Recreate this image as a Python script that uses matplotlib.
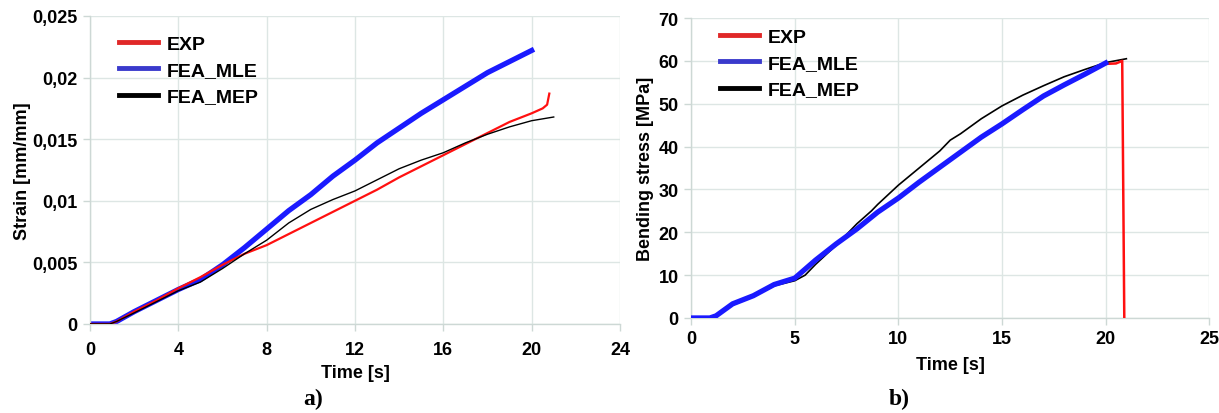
import matplotlib
matplotlib.use("Agg")
import matplotlib.pyplot as plt
from matplotlib.lines import Line2D
from matplotlib.ticker import FuncFormatter

# ---- Panel a) Strain vs time ----
t_exp_a = [0, 0.9, 1.2, 2, 3, 4, 5, 6, 7, 8, 9, 10, 11, 12, 13, 14, 15, 16, 17, 18, 19, 20, 20.5, 20.7, 20.8]
e_exp_a = [0, 0, 0.0002, 0.0010, 0.0019, 0.0029, 0.0038, 0.0048, 0.0057, 0.0064, 0.0073, 0.0082, 0.0091, 0.0100, 0.0109, 0.0119, 0.0128, 0.0137, 0.0146, 0.0155, 0.0164, 0.0171, 0.0175, 0.0178, 0.0187]

t_mle_a = [0, 0.9, 1.2, 2, 3, 4, 5, 6, 7, 8, 9, 10, 11, 12, 13, 14, 15, 16, 17, 18, 19, 20]
e_mle_a = [0, 0, 0.0002, 0.0010, 0.0019, 0.0028, 0.0036, 0.0048, 0.0062, 0.0077, 0.0092, 0.0105, 0.0120, 0.0133, 0.0147, 0.0159, 0.0171, 0.0182, 0.0193, 0.0204, 0.0213, 0.0222]

t_mep_a = [0, 0.9, 1.2, 2, 3, 4, 5, 6, 7, 8, 9, 10, 11, 12, 13, 14, 15, 16, 17, 18, 19, 20, 21]
e_mep_a = [0, 0, 0.0002, 0.0009, 0.0018, 0.0027, 0.0034, 0.0045, 0.0057, 0.0068, 0.0082, 0.0093, 0.0101, 0.0108, 0.0117, 0.0126, 0.0133, 0.0139, 0.0147, 0.0154, 0.0160, 0.0165, 0.0168]

# ---- Panel b) Bending stress vs time ----
t_exp_b = [0, 0.9, 1.2, 2, 3, 4, 5, 6, 7, 8, 9, 10, 11, 12, 13, 14, 15, 16, 17, 18, 19, 20, 20.5, 20.8, 20.9]
s_exp_b = [0, 0, 0.5, 3.3, 5.2, 7.8, 9.3, 13.5, 17.3, 20.8, 24.7, 28.0, 31.7, 35.2, 38.7, 42.2, 45.3, 48.6, 51.8, 54.4, 56.9, 59.3, 59.4, 60.0, 0]

t_mle_b = [0, 0.9, 1.2, 2, 3, 4, 5, 6, 7, 8, 9, 10, 11, 12, 13, 14, 15, 16, 17, 18, 19, 20]
s_mle_b = [0, 0, 0.5, 3.3, 5.2, 7.8, 9.3, 13.5, 17.3, 20.8, 24.7, 28.0, 31.7, 35.2, 38.7, 42.2, 45.3, 48.6, 51.8, 54.4, 56.9, 59.5]

t_mep_b = [0, 0.9, 1.2, 2, 3, 4, 5, 5.5, 6, 7, 7.6, 8, 8.7, 9, 10, 11, 12, 12.5, 13, 14, 15, 16, 17, 18, 19, 20, 21]
s_mep_b = [0, 0, 0.5, 3.0, 5.0, 7.5, 8.7, 10.0, 12.5, 17.0, 20.0, 22.0, 25.0, 26.5, 31.0, 35.0, 39.0, 41.5, 43.0, 46.5, 49.5, 52.0, 54.2, 56.3, 58.0, 59.6, 60.5]

labels = ["EXP", "FEA_MLE", "FEA_MEP"]
xticks_a = [0, 4, 8, 12, 16, 20, 24]
yticks_a = [0, 0.005, 0.01, 0.015, 0.02, 0.025]
xticks_b = [0, 5, 10, 15, 20, 25]
yticks_b = [0, 10, 20, 30, 40, 50, 60, 70]

RED = "#ff1010"
BLUE = "#1a1aff"
GRID = "#dde6e4"
SANS = "Liberation Sans"

fig = plt.figure(figsize=(12.19, 4.14), dpi=100)
ax1 = fig.add_axes([0.0738, 0.215, 0.4348, 0.744])
ax2 = fig.add_axes([0.567, 0.2295, 0.4250, 0.7245])


def comma(v, pos):
    if v == 0:
        return "0"
    s = ("%.3f" % v).rstrip("0")
    return s.replace(".", ",")


def style(ax, xt, yt, fmt=None, xpad=4):
    ax.set_xticks(xt)
    ax.set_yticks(yt)
    ax.set_xlim(xt[0], xt[-1])
    ax.set_ylim(yt[0], yt[-1])
    if fmt is not None:
        ax.yaxis.set_major_formatter(FuncFormatter(fmt))
    ax.grid(True, color=GRID, linewidth=1.0)
    ax.set_axisbelow(True)
    for s in ["top", "right"]:
        ax.spines[s].set_visible(False)
    for s in ["left", "bottom"]:
        ax.spines[s].set_color("#cdd8d5")
        ax.spines[s].set_linewidth(1.0)
    ax.tick_params(colors="#cdd8d5", length=5, width=1, labelcolor="black", pad=4)
    ax.tick_params(axis="x", pad=xpad)
    for lab in ax.get_xticklabels() + ax.get_yticklabels():
        lab.set_fontfamily(SANS)
        lab.set_fontweight("bold")
        lab.set_fontsize(13)


# Panel a
ax1.plot(t_exp_a, e_exp_a, color=RED, lw=1.6, zorder=3)
ax1.plot(t_mle_a, e_mle_a, color=BLUE, lw=3.8, zorder=2)
ax1.plot(t_mep_a, e_mep_a, color="black", lw=1.0, zorder=4)
style(ax1, xticks_a, yticks_a, comma, xpad=7.5)
ax1.set_xlabel("Time [s]", fontfamily=SANS, fontweight="bold", fontsize=13)
ax1.xaxis.set_label_coords(0.5, -0.13)
ax1.set_ylabel("Strain [mm/mm]", fontfamily=SANS, fontweight="bold", fontsize=13, labelpad=1)

# Panel b
ax2.plot(t_mep_b, s_mep_b, color="black", lw=1.2, zorder=2)
ax2.plot(t_exp_b, s_exp_b, color=RED, lw=1.8, zorder=3)
ax2.plot(t_mle_b, s_mle_b, color=BLUE, lw=3.8, zorder=4)
style(ax2, xticks_b, yticks_b)
ax2.set_xlabel("Time [s]", fontfamily=SANS, fontweight="bold", fontsize=13)
ax2.xaxis.set_label_coords(0.5, -0.127)
ax2.set_ylabel("Bending stress [MPa]", fontfamily=SANS, fontweight="bold", fontsize=13, labelpad=3)

handles = [Line2D([0], [0], color="#e02828", lw=3.5),
           Line2D([0], [0], color="#3a3acc", lw=3.5),
           Line2D([0], [0], color="black", lw=3.5)]
for ax, anchor in [(ax1, (0.022, 0.995)), (ax2, (0.022, 1.025))]:
    ax.legend(handles, labels, loc="upper left", bbox_to_anchor=anchor,
              frameon=False, handlelength=2.0, handletextpad=0.45,
              labelspacing=0.45,
              prop={"family": SANS, "weight": "bold", "size": 14})

fig.text(0.257, 0.022, "a)", fontfamily="Liberation Serif", fontweight="bold", fontsize=17, ha="center")
fig.text(0.738, 0.022, "b)", fontfamily="Liberation Serif", fontweight="bold", fontsize=17, ha="center")

fig.savefig("out.png", dpi=100)
